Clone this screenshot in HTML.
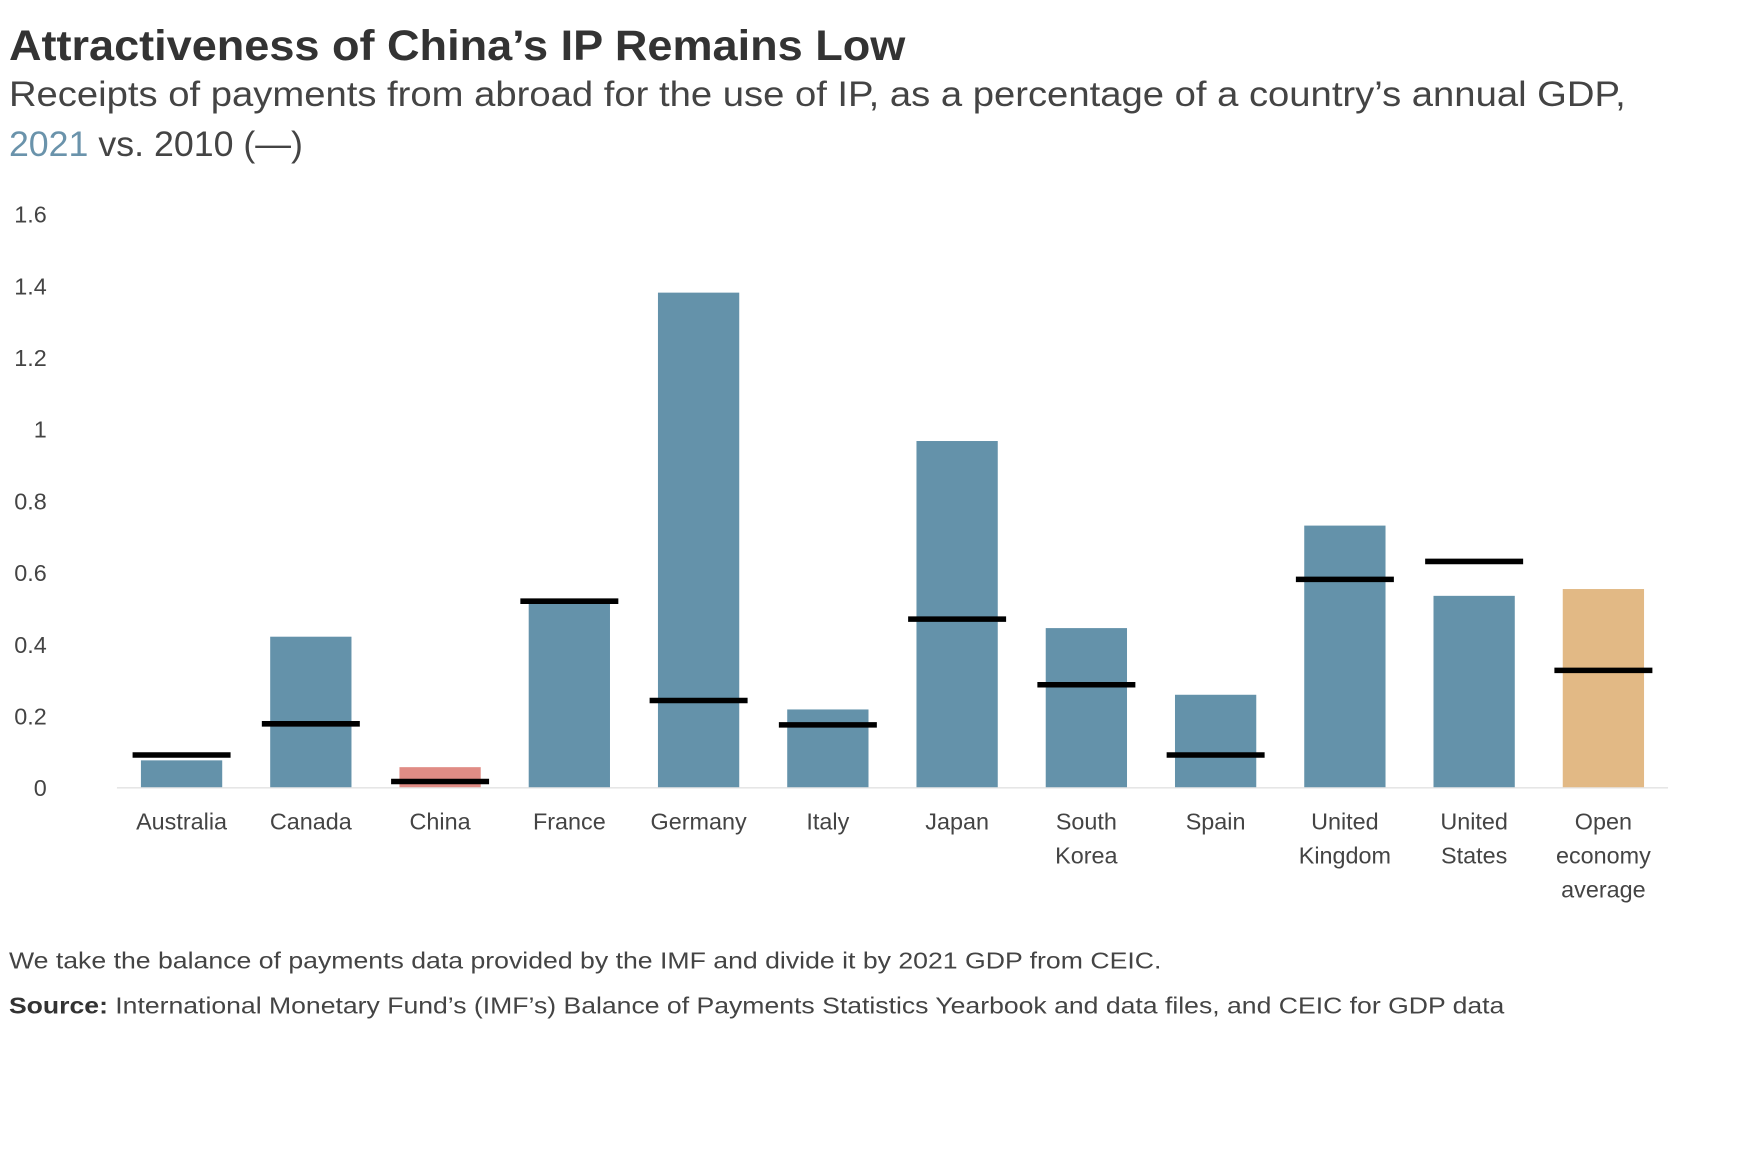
<!DOCTYPE html>
<html><head><meta charset="utf-8"><style>
html,body{margin:0;padding:0;background:#fff;}
svg{display:block;font-family:"Liberation Sans",sans-serif;}
</style></head><body>
<svg id="chart" width="1746" height="1149" viewBox="0 0 1568 1031.9" xmlns="http://www.w3.org/2000/svg">
<text x="8" y="54" font-size="38" font-weight="bold" fill="#333" textLength="805" lengthAdjust="spacingAndGlyphs">Attractiveness of China’s IP Remains Low</text>
<text x="8" y="95" font-size="32" fill="#444" textLength="1452" lengthAdjust="spacingAndGlyphs">Receipts of payments from abroad for the use of IP, as a percentage of a country’s annual GDP,</text>
<text x="8" y="140" font-size="32" fill="#444" textLength="264" lengthAdjust="spacingAndGlyphs"><tspan fill="#6a93ab">2021</tspan> vs. 2010 (—)</text>
<g id="yaxis"></g>
<line x1="105" x2="1498" y1="707.5" y2="707.5" stroke="#e6e6e6" stroke-width="1.5"/>
<g id="bars"></g>
<g id="markers"></g>
<g id="xaxis"></g>
<text x="8" y="870" font-size="21" fill="#444" textLength="1035" lengthAdjust="spacingAndGlyphs">We take the balance of payments data provided by the IMF and divide it by 2021 GDP from CEIC.</text>
<text x="8" y="910" font-size="21" fill="#444" textLength="1343" lengthAdjust="spacingAndGlyphs"><tspan font-weight="bold" fill="#333">Source:</tspan> International Monetary Fund’s (IMF’s) Balance of Payments Statistics Yearbook and data files, and CEIC for GDP data</text>
</svg>
<script>
const categories = [["Australia"],["Canada"],["China"],["France"],["Germany"],["Italy"],["Japan"],["South","Korea"],["Spain"],["United","Kingdom"],["United","States"],["Open","economy","average"]];
const values2021 = [0.075,0.42,0.056,0.52,1.38,0.217,0.966,0.444,0.258,0.73,0.534,0.553];
const values2010 = [0.09,0.177,0.016,0.519,0.242,0.174,0.469,0.286,0.09,0.58,0.63,0.326];
const yTicks = [0,0.2,0.4,0.6,0.8,1,1.2,1.4,1.6];
const yTickLabels = ["0","0.2","0.4","0.6","0.8","1","1.2","1.4","1.6"];

const NS = "http://www.w3.org/2000/svg";
const y0 = 707, y16 = 192;
const yScale = v => y0 - (v / 1.6) * (y0 - y16);
const bandStart = 105, step = (1498 - 105) / categories.length;
const xCenter = i => bandStart + step * (i + 0.5);
function mk(tag, attrs, parent) {
  const e = document.createElementNS(NS, tag);
  for (const k in attrs) e.setAttribute(k, attrs[k]);
  parent.appendChild(e);
  return e;
}
const yg = document.getElementById('yaxis');
yTicks.forEach((t, i) => {
  const el = mk('text', {x: 42, y: yScale(t) + 8, 'text-anchor': 'end', 'font-size': 21, fill: '#444'}, yg);
  el.textContent = yTickLabels[i];
  
  
});
const bg = document.getElementById('bars');
const mg = document.getElementById('markers');
const xg = document.getElementById('xaxis');
categories.forEach((c, i) => {
  const cx = xCenter(i);
  const color = i === 2 ? '#e08c85' : (i === 11 ? '#e2b985' : '#6492aa');
  const top = yScale(values2021[i]);
  const r = mk('rect', {x: cx - 36.5, y: top, width: 73, height: y0 - top, fill: color}, bg);
  
  
  const my = yScale(values2010[i]);
  const l = mk('line', {x1: cx - 44, x2: cx + 44, y1: my, y2: my, stroke: '#000', 'stroke-width': 5}, mg);
  
  
  c.forEach((line, j) => {
    const t = mk('text', {x: cx, y: 745 + j * 30.5, 'text-anchor': 'middle', 'font-size': 21, fill: '#444'}, xg);
    t.textContent = line;
    
    
  });
});
</script>
</body></html>
